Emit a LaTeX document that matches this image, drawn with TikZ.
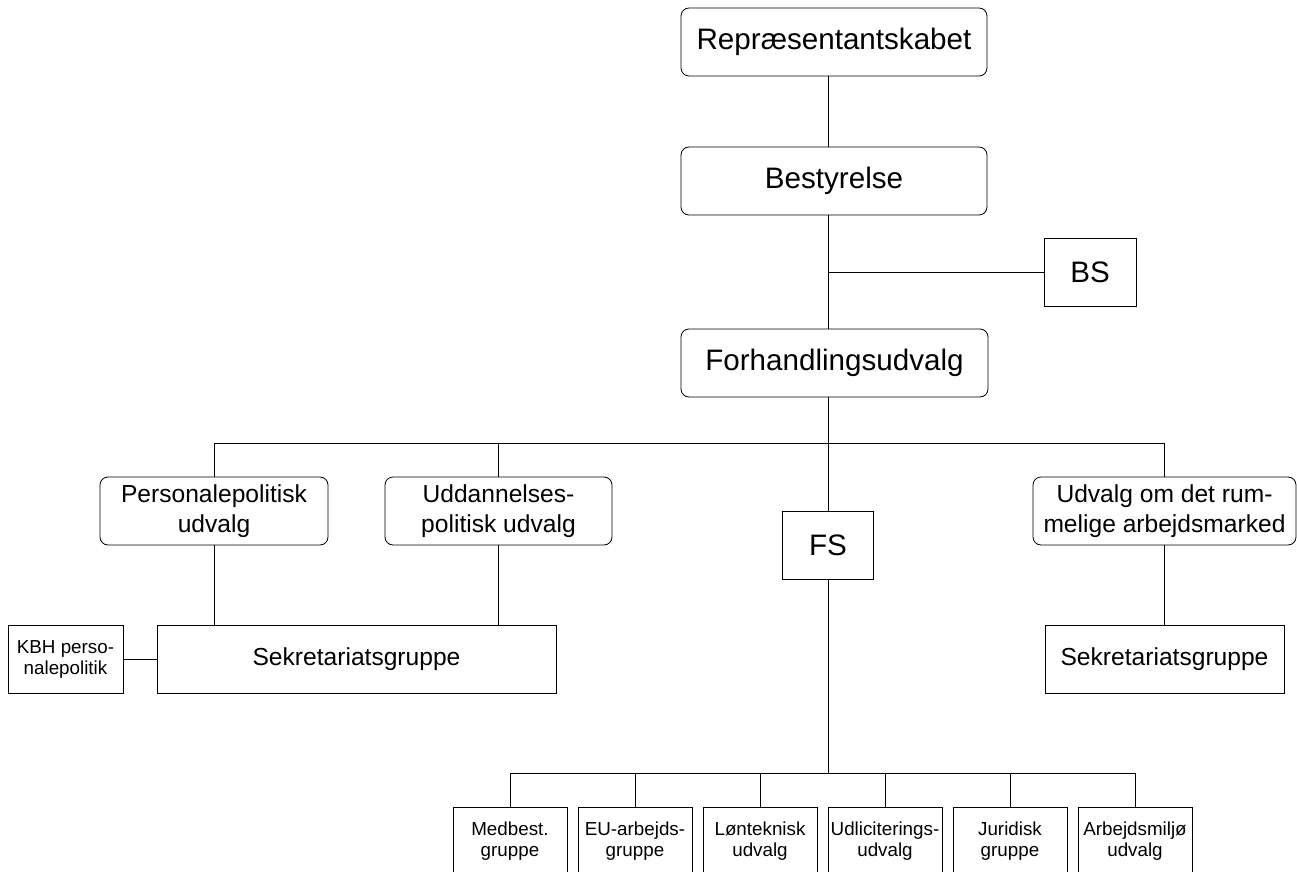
\documentclass[tikz,border=0pt]{standalone}
\usepackage{fontspec}
\setmainfont{Liberation Sans}
\usetikzlibrary{positioning}
\tikzset{every node/.style={align=center, inner sep=1pt}, line width=0.6pt,
	box/.style={draw, minimum height=34pt},
	rbox/.style={box, rounded corners=4pt},
	big/.style={font=\fontsize{14.8}{18}\selectfont},
	mid/.style={font=\fontsize{12.3}{15.2}\selectfont},
	small/.style={font=\fontsize{9.4}{10.5}\selectfont}}

\begin{document}
\begin{tikzpicture}[x=0.5pt, y=-0.5pt]
	\useasboundingbox (0,0) rectangle (1297,872);
	\node[rbox, big, minimum width=153pt] (rep) at (834,42) {Repræsentantskabet};
	\node[rbox, big, minimum width=153pt] (best) at (834,181) {Bestyrelse};
	\node[box, big, minimum width=46pt] (bs) at (1090,272.5) {BS};
	\node[rbox, big, minimum width=153.5pt] (forh) at (834.5,363) {Forhandlingsudvalg};
	\node[rbox, mid, minimum width=114pt] (pers) at (214,511) {Personalepolitisk\\udvalg};
	\node[rbox, mid, minimum width=113.5pt] (udd) at (498.5,511) {Uddannelses-\\politisk udvalg};
	\node[box, big, minimum width=45.5pt] (fs) at (828,545) {FS};
	\node[rbox, mid, minimum width=131.5pt] (rum) at (1164.5,511) {Udvalg om det rum-\\melige arbejdsmarked};
	\node[box, mid, minimum width=199.5pt] (sekL) at (356.5,659) {Sekretariatsgruppe};
	\node[box, small, minimum width=57.5pt] (kbh) at (65.5,659) {KBH perso-\\nalepolitik};
	\node[box, mid, minimum width=119.5pt] (sekR) at (1164.5,659) {Sekretariatsgruppe};
	\foreach \i/\txt in {1/{Medbest.\\gruppe}, 2/{EU-arbejds-\\gruppe}, 3/{Lønteknisk\\udvalg},
		4/{Udliciterings-\\udvalg}, 5/{Juridisk\\gruppe}, 6/{Arbejdsmiljø\\udvalg}}
		\node[box, small, minimum width=57pt] (g\i) at ({385+125*\i},841) {\txt};

	\coordinate (busL) at (214,443);
	\coordinate (busR) at (1164.5,443);
	\coordinate (botbus) at (828,773);

	\draw (rep.south -| fs) -- (best.north -| fs);
	\draw (best.south -| fs) -- (forh.north -| fs);
	\draw (bs.west) -- (bs.west -| fs);
	\draw (forh.south -| fs) -- (fs.north);
	\draw (pers.north) -- (busL) -- (busR) -- (rum.north);
	\draw (udd.north) -- (udd.north |- busL);
	\draw (pers.south) -- (sekL.north -| pers.south);
	\draw (udd.south) -- (sekL.north -| udd.south);
	\draw (kbh) -- (sekL);
	\draw (rum) -- (sekR);
	\draw (fs.south) -- (botbus);
	\draw (g1.north |- botbus) -- (g6.north |- botbus);
	\foreach \i in {1,...,6}
		\draw (g\i.north) -- (g\i.north |- botbus);
\end{tikzpicture}
\end{document}
